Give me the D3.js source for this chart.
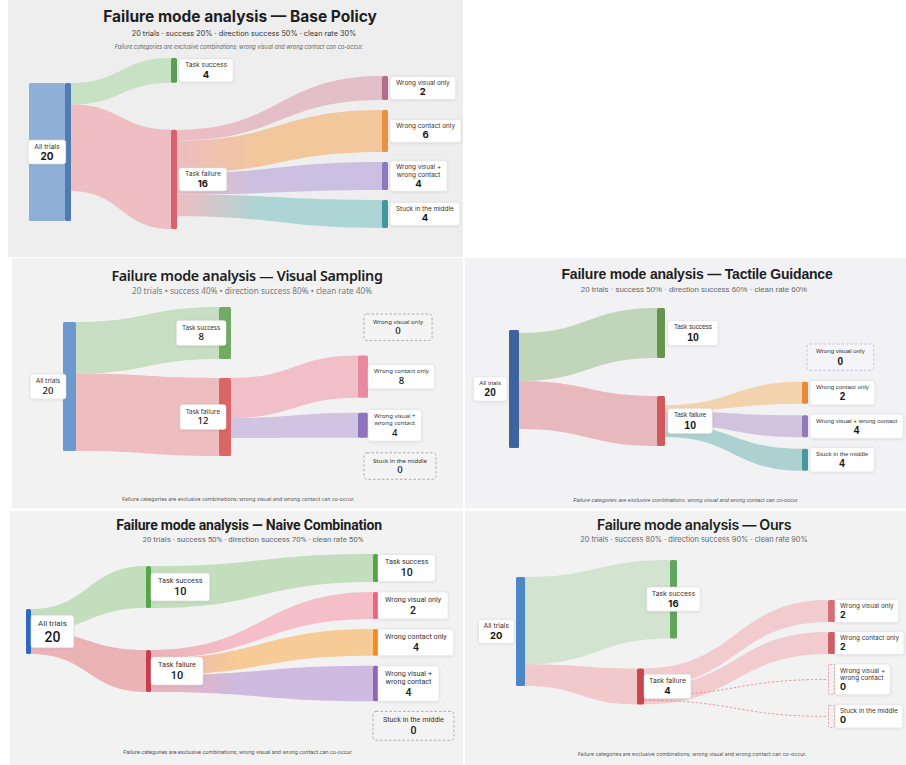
<!DOCTYPE html>
<html>
<head>
<meta charset="utf-8">
<script src="https://cdn.jsdelivr.net/npm/d3@7"></script>
<style>
  body { margin: 0; background: #fff; }
  svg { display: block; }
</style>
</head>
<body>
<svg id="chart" width="906" height="765"></svg>
<script>
// ---- data ----
var policies = ["Base Policy", "Visual Sampling", "Tactile Guidance", "Naive Combination", "Ours"];
var trialCounts = [20, 20, 20, 20, 20];
var successCounts = [4, 8, 10, 10, 16];
var failureCounts = [16, 12, 10, 10, 4];
var visualOnly = [2, 0, 0, 2, 2];
var contactOnly = [6, 8, 2, 4, 2];
var visualContact = [4, 4, 4, 4, 0];
var stuckCounts = [4, 0, 4, 0, 0];
var successRates = [20, 40, 50, 50, 80];
var directionRates = [50, 80, 60, 70, 90];
var cleanRates = [30, 40, 60, 50, 90];
var failureKeys = ["visual", "contact", "both", "stuck"];
var failureLabels = ["Wrong visual only", "Wrong contact only", "Wrong visual + wrong contact", "Stuck in the middle"];
var noteText = "Failure categories are exclusive combinations; wrong visual and wrong contact can co-occur.";

// ---- per panel look (positions in page pixels) ----
var layouts = [
  { x: 8, y: 0, w: 455, h: 257, bg: "#eeeeee", font: "Inter, sans-serif",
    titleX: 240, titleY: 22, titleSize: 15.5, titleWeight: 700, titleSpacing: 0, sep: "·",
    subX: 244, subY: 36, subSize: 7.3, subColor: "#333",
    noteX: 239, noteY: 49, noteSize: 5.6, noteItalic: true, noteColor: "#666",
    colX: [65, 171, 382], barW: [6, 6, 6], k: [6.9, 6.2, 7], minH: [0, 24, 24],
    top: [83, 58, 76], gap: [0, 47, 10], srcMode: ["top", "top"], linkK: [5.4, 5.4],
    wide: 36, wideColor: "#8fb0d6",
    labelSide: ["inside", "right", "right"], labelGap: [0, 2, 2],
    nameSize: [6.8, 6.6, 6.4], valueSize: [10, 9.5, 9.5], valueWeight: 700, padX: 6, padY: 2,
    wrap: true, gradient: true,
    colors: { all: ["#4f7db3"], success: ["#5e9c56", "#c4dfc0"], failure: ["#d9616e", "#eebbbf"],
      visual: ["#b56d8c", "#e3bcc6"], contact: ["#e89145", "#f2c597"],
      both: ["#8b78bf", "#c8bde0"], stuck: ["#43979b", "#a9d3d3"] } },

  { x: 12, y: 258, w: 451, h: 250, bg: "#f2f2f2", font: "'Noto Sans', sans-serif",
    titleX: 247, titleY: 281, titleSize: 14.3, titleWeight: 600, titleSpacing: -0.3, sep: "•",
    subX: 252, subY: 294, subSize: 8.2, subColor: "#777",
    noteX: 238, noteY: 501, noteSize: 5.4, noteItalic: false, noteColor: "#555",
    colX: [63, 219, 358], barW: [13, 12, 10], k: [6.45, 6.5, 5.3], minH: [0, 0, 25],
    top: [322, 307, 314], gap: [0, 19, 15], srcMode: ["fit", "top"], linkK: [0, 5],
    labelSide: ["left", "left", "right"], labelGap: [-3, -7, 0],
    nameSize: [6.4, 6.4, 6], valueSize: [9.5, 9.5, 9.5], valueWeight: 500, padX: 6, padY: 3,
    wrap: true, gradient: false, zeroStyle: "box", zeroDx: 6, zeroStroke: "#9a9a9a", zeroFill: "#f4f4f4",
    colors: { all: ["#6d99cf"], success: ["#71ab64", "#c4dcbf"], failure: ["#dc6565", "#ecb9bc"],
      visual: ["#e8899f", "#f0bcc4"], contact: ["#e8899f", "#f0bcc4"],
      both: ["#8e74bd", "#cfc0e0"], stuck: ["#47999a", "#a9cecd"] } },

  { x: 465, y: 258, w: 441, h: 250, bg: "#f2f2f4", font: "'Liberation Sans', Arial, sans-serif",
    titleX: 697, titleY: 279, titleSize: 14, titleWeight: 700, titleSpacing: -0.2, sep: "·",
    subX: 694, subY: 292, subSize: 7.9, subColor: "#666",
    noteX: 686, noteY: 502, noteSize: 5.5, noteItalic: true, noteColor: "#555",
    colX: [509, 657, 802], barW: [10, 8, 6], k: [5.9, 5, 5], minH: [0, 0, 22],
    top: [330, 308, 344], gap: [0, 38, 11.5], srcMode: ["top", "center"], linkK: [4.8, 3.2], srcOffset: 3,
    labelSide: ["left", "right", "right"], labelGap: [2, 3, 2],
    nameSize: [6.2, 6.4, 6.2], valueSize: [10, 10.5, 10], valueWeight: 700, padX: 6, padY: 2.5,
    wrap: false, gradient: false, zeroStyle: "box", zeroDx: 5, zeroStroke: "#b9b3dc", zeroFill: "#f5f5f8",
    colors: { all: ["#3e63a1"], success: ["#65964d", "#bed3b6"], failure: ["#cf5a5b", "#e7b5b8"],
      visual: ["#b56d8c", "#e3bcc6"], contact: ["#e78b3a", "#f2d0aa"],
      both: ["#9378b7", "#cfbfdc"], stuck: ["#47999a", "#a9cecd"] } },

  { x: 10, y: 511, w: 453, h: 254, bg: "#f2f2f2", font: "Roboto, sans-serif",
    titleX: 249, titleY: 530, titleSize: 14, titleWeight: 700, titleSpacing: -0.2, sep: "·",
    subX: 253, subY: 542, subSize: 7.9, subColor: "#666",
    noteX: 238, noteY: 754, noteSize: 5.6, noteItalic: false, noteColor: "#555",
    colX: [26, 146, 373], barW: [5, 5, 5], k: [2.25, 4.2, 2.8], minH: [0, 0, 0], fitBox: [true, false, true],
    top: [609, 566, 554], gap: [0, 42, 10], srcMode: ["fit", "fit"], linkK: [0, 0],
    labelSide: ["right", "right", "right"], labelGap: [0, 0, 0],
    nameSize: [8, 7.4, 7.2], valueSize: [14, 11, 10.5], valueWeight: 500, padX: 7, padY: 3,
    wrap: true, gradient: true, repeatSuccess: true, zeroStyle: "box", zeroDx: 0, zeroStroke: "#9a9a9a", zeroFill: "#f3f3f3",
    colors: { all: ["#2d69c0"], success: ["#55a647", "#c0dcb9"], failure: ["#c73e4f", "#ebafb3"],
      visual: ["#ec6583", "#f5bcc7"], contact: ["#f48d1c", "#f8c991"],
      both: ["#8f67b8", "#cdb7df"], stuck: ["#47999a", "#a9cecd"] } },

  { x: 465, y: 511, w: 441, h: 254, bg: "#f2f2f2", font: "Inter, sans-serif",
    titleX: 694, titleY: 530, titleSize: 14.2, titleWeight: 600, titleSpacing: -0.3, sep: "·",
    subX: 694, subY: 542, subSize: 7.4, subColor: "#666",
    noteX: 692, noteY: 756, noteSize: 5.2, noteItalic: false, noteColor: "#555",
    colX: [516, 670, 828], shift: { failure: -33 }, barW: [9, 7, 7], k: [5.45, 4.9, 4.9], minH: [0, 36, 22],
    top: [577, 560, 600], gap: [0, 30, 10], srcMode: ["fit", "fit"], linkK: [0, 0],
    labelSide: ["left", "center", "right"], labelOverride: { failure: "right" }, labelGap: [2, 0, 0],
    nameSize: [6.8, 6.8, 6.4], valueSize: [9.5, 9.5, 9], valueWeight: 700, padX: 5, padY: 2.5,
    alignStart: [false, false, true],
    wrap: true, gradient: false, zeroStyle: "bar", zeroLinks: true, zeroStroke: "#e3868e",
    colors: { all: ["#4a87c6"], success: ["#5fa55c", "#d0e2cc"], failure: ["#c84650", "#f1c6c8"],
      visual: ["#d86f78", "#f0c8ca"], contact: ["#cf5d67", "#f0c8ca"],
      both: ["#e3868e", "#f0c8ca"], stuck: ["#e3868e", "#f0c8ca"] } }
];

var svg = d3.select("#chart");
var defs = svg.append("defs");
defs.append("filter").attr("id", "shadow")
    .attr("x", "-20%").attr("y", "-30%").attr("width", "140%").attr("height", "170%")
  .append("feDropShadow")
    .attr("dx", 0).attr("dy", 0.6).attr("stdDeviation", 0.8)
    .attr("flood-color", "#000").attr("flood-opacity", 0.12);

function ribbon(x0, a0, a1, x1, b0, b1) {
  var xm = (x0 + x1) / 2;
  return "M" + x0 + "," + a0 + "C" + xm + "," + a0 + " " + xm + "," + b0 + " " + x1 + "," + b0 +
         "L" + x1 + "," + b1 + "C" + xm + "," + b1 + " " + xm + "," + a1 + " " + x0 + "," + a1 + "Z";
}

function drawPanel(i, L) {
  var g = svg.append("g").attr("font-family", L.font);

  g.append("rect")
      .attr("x", L.x).attr("y", L.y).attr("width", L.w).attr("height", L.h)
      .attr("fill", L.bg);

  g.append("text")
      .attr("x", L.titleX).attr("y", L.titleY)
      .attr("text-anchor", "middle")
      .attr("font-size", L.titleSize).attr("font-weight", L.titleWeight)
      .attr("letter-spacing", L.titleSpacing)
      .attr("fill", "#1e1e1e")
      .text("Failure mode analysis — " + policies[i]);

  var s = " " + L.sep + " ";
  g.append("text")
      .attr("x", L.subX).attr("y", L.subY)
      .attr("text-anchor", "middle")
      .attr("font-size", L.subSize).attr("fill", L.subColor)
      .text(trialCounts[i] + " trials" + s + "success " + successRates[i] + "%" + s +
            "direction success " + directionRates[i] + "%" + s + "clean rate " + cleanRates[i] + "%");

  g.append("text")
      .attr("x", L.noteX).attr("y", L.noteY)
      .attr("text-anchor", "middle")
      .attr("font-size", L.noteSize).attr("fill", L.noteColor)
      .attr("font-style", L.noteItalic ? "italic" : "normal")
      .text(noteText);

  // nodes and links
  var nodes = [
    { id: "all", col: 0, name: ["All trials"], value: trialCounts[i] },
    { id: "success", col: 1, name: ["Task success"], value: successCounts[i] },
    { id: "failure", col: 1, name: ["Task failure"], value: failureCounts[i] }
  ];
  var links = [
    { source: "all", target: "success", value: successCounts[i] },
    { source: "all", target: "failure", value: failureCounts[i] }
  ];
  if (L.repeatSuccess) {
    nodes.push({ id: "success2", col: 2, name: ["Task success"], value: successCounts[i], colorKey: "success" });
    links.push({ source: "success", target: "success2", value: successCounts[i] });
  }
  var catValues = [visualOnly[i], contactOnly[i], visualContact[i], stuckCounts[i]];
  failureKeys.forEach(function(key, j) {
    var lines = (L.wrap && key == "both") ? ["Wrong visual +", "wrong contact"] : [failureLabels[j]];
    nodes.push({ id: key, col: 2, name: lines, value: catValues[j] });
    links.push({ source: "failure", target: key, value: catValues[j] });
  });
  var byId = {};
  nodes.forEach(function(n) { byId[n.id] = n; if (!n.colorKey) n.colorKey = n.id; });

  var linkLayer = g.append("g");
  var nodeLayer = g.append("g");
  var labelLayer = g.append("g");

  // labels first, so their size is known
  nodes.forEach(function(n) {
    var c = n.col;
    var lg = labelLayer.append("g");
    var tg = lg.append("g");
    var y = L.padY + L.nameSize[c] * 0.95;
    var texts = [];
    n.name.forEach(function(line, li) {
      if (li > 0) y += L.nameSize[c] * 1.2;
      texts.push(tg.append("text").attr("y", y)
          .attr("font-size", L.nameSize[c]).attr("fill", "#333").text(line));
    });
    y += L.valueSize[c] * 1.12;
    texts.push(tg.append("text").attr("y", y)
        .attr("font-size", L.valueSize[c]).attr("font-weight", L.valueWeight)
        .attr("fill", "#161616").text(n.value));
    var tw = d3.max(texts, function(t) { return t.node().getComputedTextLength(); });
    var zeroBox = n.value == 0 && L.zeroStyle == "box";
    var px = L.padX + (zeroBox ? 3 : 0);
    var bw = tw + 2 * px;
    var bh = y + L.padY + L.valueSize[c] * 0.22 + (zeroBox ? 2 : 0);
    var start = L.alignStart && L.alignStart[c];
    texts.forEach(function(t) {
      t.attr("text-anchor", start ? "start" : "middle").attr("x", start ? px : bw / 2);
    });
    if (zeroBox) tg.attr("transform", "translate(0,1)");
    lg.insert("rect", "g")
        .attr("width", bw).attr("height", bh).attr("rx", zeroBox ? 3 : 2.5)
        .attr("fill", zeroBox ? L.zeroFill : "#fff")
        .attr("stroke", zeroBox ? L.zeroStroke : "#dddddd")
        .attr("stroke-width", zeroBox ? 0.8 : 0.6)
        .attr("stroke-dasharray", zeroBox ? "2.5,2" : null)
        .attr("filter", zeroBox ? null : "url(#shadow)");
    n.box = { w: bw, h: bh, g: lg };
  });

  // column stacking through value scales
  var hs = L.k.map(function(k) { return d3.scaleLinear().domain([0, 1]).range([0, k]); });
  [0, 1, 2].forEach(function(c) {
    var y = L.top[c];
    nodes.filter(function(n) { return n.col == c; }).forEach(function(n) {
      var h = n.value > 0 ? Math.max(hs[c](n.value), L.minH[c]) : n.box.h;
      if (L.fitBox && L.fitBox[c]) h = Math.max(h, n.box.h);
      n.x0 = L.colX[c] + ((L.shift && L.shift[n.id]) || 0);
      n.x1 = n.x0 + L.barW[c];
      n.y0 = y;
      n.y1 = y + h;
      y += h + L.gap[c];
    });
  });

  // link bands
  nodes.forEach(function(n) {
    var outs = links.filter(function(l) { return l.source == n.id && l.value > 0; });
    if (outs.length) {
      var tot = d3.sum(outs, function(l) { return l.value; });
      var mode = L.srcMode[n.col];
      var bandH = mode == "fit" ? n.y1 - n.y0 : tot * L.linkK[n.col];
      var st = mode == "center" ? (n.y0 + n.y1 - bandH) / 2 : n.y0 + (mode == "top" ? (L.srcOffset || 0) : 0);
      var bs = d3.scaleLinear().domain([0, tot]).range([st, st + bandH]);
      var acc = 0;
      outs.forEach(function(l) { l.s0 = bs(acc); acc += l.value; l.s1 = bs(acc); });
    }
    var ins = links.filter(function(l) { return l.target == n.id && l.value > 0; });
    if (ins.length) {
      var tin = d3.sum(ins, function(l) { return l.value; });
      var ts = d3.scaleLinear().domain([0, tin]).range([n.y0, n.y1]);
      var a2 = 0;
      ins.forEach(function(l) { l.t0 = ts(a2); a2 += l.value; l.t1 = ts(a2); });
    }
  });

  links.filter(function(l) { return l.value > 0; }).forEach(function(l) {
    var sN = byId[l.source], tN = byId[l.target];
    var fill = L.colors[tN.colorKey][1];
    if (L.gradient && sN.id == "failure") {
      var gid = "grad" + i + tN.id;
      var gr = defs.append("linearGradient").attr("id", gid)
          .attr("gradientUnits", "userSpaceOnUse")
          .attr("x1", sN.x1).attr("x2", tN.x0).attr("y1", 0).attr("y2", 0);
      gr.append("stop").attr("offset", 0).attr("stop-color", L.colors.failure[1]);
      gr.append("stop").attr("offset", 0.4).attr("stop-color", fill);
      fill = "url(#" + gid + ")";
    }
    linkLayer.append("path")
        .attr("d", ribbon(sN.x1, l.s0, l.s1, tN.x0, l.t0, l.t1))
        .attr("fill", fill)
        .attr("opacity", 0.95);
  });

  if (L.zeroLinks) {
    var zeros = links.filter(function(l) { return l.value == 0; });
    zeros.forEach(function(l, zi) {
      var sN = byId[l.source], tN = byId[l.target];
      var sy = sN.y1 - 9 + zi * 5;
      var ty = (tN.y0 + tN.y1) / 2;
      var xm = (sN.x1 + tN.x0) / 2;
      linkLayer.append("path")
          .attr("d", "M" + sN.x1 + "," + sy + "C" + xm + "," + sy + " " + xm + "," + ty + " " + tN.x0 + "," + ty)
          .attr("fill", "none").attr("stroke", L.zeroStroke)
          .attr("stroke-width", 0.8).attr("stroke-dasharray", "2.5,1.8");
    });
  }

  // node bars
  nodes.forEach(function(n) {
    if (n.col == 0 && L.wide) {
      nodeLayer.append("rect")
          .attr("x", n.x0 - L.wide).attr("y", n.y0)
          .attr("width", L.wide).attr("height", n.y1 - n.y0)
          .attr("rx", 1.5).attr("fill", L.wideColor);
    }
    if (n.value == 0) {
      if (L.zeroStyle == "bar") {
        nodeLayer.append("rect")
            .attr("x", n.x0 + 0.5).attr("y", n.y0 + 0.5)
            .attr("width", n.x1 - n.x0 - 1).attr("height", n.y1 - n.y0 - 1)
            .attr("rx", 1).attr("fill", "none")
            .attr("stroke", L.zeroStroke).attr("stroke-width", 0.8)
            .attr("stroke-dasharray", "2,1.5");
      }
      return;
    }
    nodeLayer.append("rect")
        .attr("x", n.x0).attr("y", n.y0)
        .attr("width", n.x1 - n.x0).attr("height", n.y1 - n.y0)
        .attr("rx", 1.5)
        .attr("fill", L.colors[n.colorKey][0]);
  });

  // place labels
  nodes.forEach(function(n) {
    var c = n.col, b = n.box;
    var side = (L.labelOverride && L.labelOverride[n.id]) || L.labelSide[c];
    var bx, by = (n.y0 + n.y1) / 2 - b.h / 2;
    if (n.value == 0 && L.zeroStyle == "box") {
      bx = n.x0 + L.zeroDx;
    } else if (side == "right") {
      bx = n.x1 + L.labelGap[c];
    } else if (side == "left") {
      bx = n.x0 - L.labelGap[c] - b.w;
    } else if (side == "center") {
      bx = (n.x0 + n.x1) / 2 - b.w / 2;
    } else {
      bx = n.x0 - L.wide / 2 - b.w / 2;
    }
    b.g.attr("transform", "translate(" + bx + "," + by + ")");
  });
}

layouts.forEach(function(L, i) { drawPanel(i, L); });
</script>
</body>
</html>
